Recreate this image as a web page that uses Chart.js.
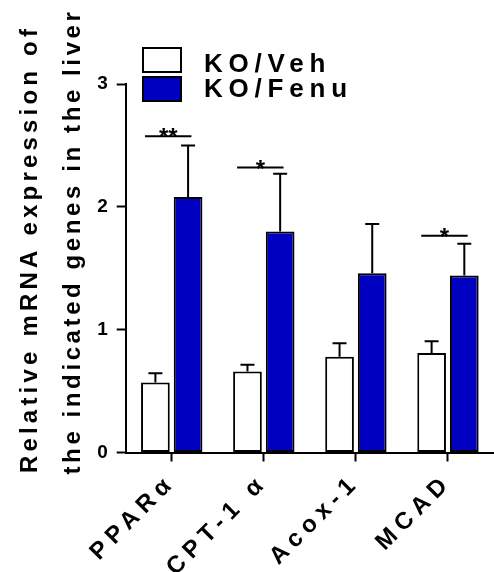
<!DOCTYPE html>
<html>
<head>
<meta charset="utf-8">
<script src="https://cdn.jsdelivr.net/npm/chart.js@4/dist/chart.umd.min.js"></script>
<style>
  html, body { margin: 0; padding: 0; background: #fff; }
  #wrap { width: 494px; height: 572px; }
</style>
</head>
<body>
<div id="wrap"><canvas id="c" width="494" height="572"></canvas></div>
<script>
// Gene expression in liver, KO mice treated with vehicle or fenofibrate
const categories = ['PPARα', 'CPT-1 α', 'Acox-1', 'MCAD'];
const vehMean  = [0.57, 0.66, 0.78, 0.81];
const vehSem   = [0.075, 0.055, 0.11, 0.095];
const fenuMean = [2.08, 1.80, 1.46, 1.44];
const fenuSem  = [0.42, 0.47, 0.40, 0.26];
const seriesNames = ['KO/Veh', 'KO/Fenu'];
const yTickValues = [0, 1, 2, 3];

// significance brackets: category index, height, marker
const sigGroup = [0, 1, 3];
const sigLevel = [2.575, 2.32, 1.764];
const sigMark  = ['**', '*', '*'];

const yTitleLines = ['Relative mRNA expression of', 'the indicated genes in the liver'];

const FONT = "'Liberation Sans', Arial, Helvetica, sans-serif";
const BLUE = '#0000C0';

const errorBars = {
  id: 'errorBars',
  afterDatasetsDraw(chart) {
    const ctx = chart.ctx;
    const y = chart.scales.y;
    const sems = [vehSem, fenuSem];
    ctx.save();
    ctx.strokeStyle = '#000';
    ctx.lineWidth = 2;
    chart.data.datasets.forEach((ds, di) => {
      const meta = chart.getDatasetMeta(di);
      meta.data.forEach((bar, i) => {
        const top = y.getPixelForValue(ds.data[i] + sems[di][i]);
        const base = y.getPixelForValue(ds.data[i]);
        ctx.beginPath();
        ctx.moveTo(bar.x, base);
        ctx.lineTo(bar.x, top);
        ctx.moveTo(bar.x - 7, top);
        ctx.lineTo(bar.x + 7, top);
        ctx.stroke();
      });
    });
    // significance brackets
    const m0 = chart.getDatasetMeta(0), m1 = chart.getDatasetMeta(1);
    ctx.fillStyle = '#000';
    ctx.font = 'bold 24px ' + FONT;
    ctx.textAlign = 'center';
    ctx.textBaseline = 'alphabetic';
    sigGroup.forEach((g, k) => {
      const b0 = m0.data[g], b1 = m1.data[g];
      const left = b0.x - b0.width / 2 + 4;
      const right = b1.x + b1.width / 2 - 11;
      const py = y.getPixelForValue(sigLevel[k]);
      ctx.beginPath();
      ctx.moveTo(left, py);
      ctx.lineTo(right, py);
      ctx.stroke();
      ctx.fillText(sigMark[k], (left + right) / 2, py + 9);
    });
    ctx.restore();
  }
};

const decorations = {
  id: 'decorations',
  beforeDraw(chart) {
    // wider tracking for the category labels
    const xs = chart.scales.x;
    if (xs && !xs.__tracked) {
      const orig = xs.drawLabels;
      xs.drawLabels = function (area) {
        const c = this.ctx;
        c.save();
        c.letterSpacing = '6px';
        orig.call(this, area);
        c.restore();
      };
      xs.__tracked = true;
    }
  },
  afterDraw(chart) {
    const ctx = chart.ctx;
    ctx.save();
    ctx.fillStyle = '#000';
    // y-axis title, two rotated lines
    ctx.font = 'bold 24px ' + FONT;
    ctx.textAlign = 'center';
    ctx.textBaseline = 'alphabetic';
    const lineX = [37, 80];
    const lineC = [249, 241.5];
    const spacing = ['4.2px', '3.6px'];
    yTitleLines.forEach((t, i) => {
      ctx.save();
      ctx.letterSpacing = spacing[i];
      ctx.translate(lineX[i], lineC[i]);
      ctx.rotate(-Math.PI / 2);
      ctx.fillText(t, 0, 0);
      ctx.restore();
    });
    // legend
    ctx.font = 'bold 26px ' + FONT;
    ctx.letterSpacing = '5.8px';
    ctx.textAlign = 'left';
    ctx.lineWidth = 2;
    ctx.strokeStyle = '#000';
    const boxTop = [48, 77];
    const textBase = [71.5, 97];
    chart.data.datasets.forEach((ds, i) => {
      ctx.fillStyle = ds.backgroundColor;
      ctx.fillRect(143, boxTop[i], 38, 24);
      ctx.strokeRect(143, boxTop[i], 38, 24);
      ctx.fillStyle = '#000';
      ctx.fillText(ds.label, 204, textBase[i]);
    });
    ctx.restore();
  }
};

new Chart(document.getElementById('c'), {
  type: 'bar',
  data: {
    labels: categories,
    datasets: [
      { label: seriesNames[0], data: vehMean, backgroundColor: '#FFFFFF',
        borderColor: '#000', borderWidth: 2, borderSkipped: false },
      { label: seriesNames[1], data: fenuMean, backgroundColor: BLUE,
        borderColor: '#000', borderWidth: 2, borderSkipped: false }
    ]
  },
  options: {
    responsive: false,
    animation: false,
    devicePixelRatio: 1,
    categoryPercentage: 0.71,
    barPercentage: 0.878,
    layout: { padding: { top: 84, left: 0, right: 0, bottom: 0 } },
    plugins: { legend: { display: false }, tooltip: { enabled: false }, title: { display: false } },
    scales: {
      x: {
        offset: true,
        grid: { display: true, drawOnChartArea: false, drawTicks: true, tickLength: 9, tickWidth: 2, tickColor: '#000', offset: false },
        border: { display: true, color: '#000', width: 2 },
        ticks: {
          color: '#000', font: { family: FONT, size: 24, weight: 'bold' },
          maxRotation: 45, minRotation: 45, autoSkip: false, padding: 7
        },
        afterFit(scale) { scale.height = 119.5; }
      },
      y: {
        min: 0, max: 3,
        afterBuildTicks(scale) { scale.ticks = yTickValues.map(v => ({ value: v })); },
        grid: { display: true, drawOnChartArea: false, drawTicks: true, tickLength: 9, tickWidth: 2, tickColor: '#000' },
        border: { display: true, color: '#000', width: 2 },
        ticks: { color: '#000', font: { family: FONT, size: 19, weight: 'bold' }, padding: 9 },
        afterFit(scale) { scale.width = 125.7; }
      }
    }
  },
  plugins: [errorBars, decorations]
});
</script>
</body>
</html>
